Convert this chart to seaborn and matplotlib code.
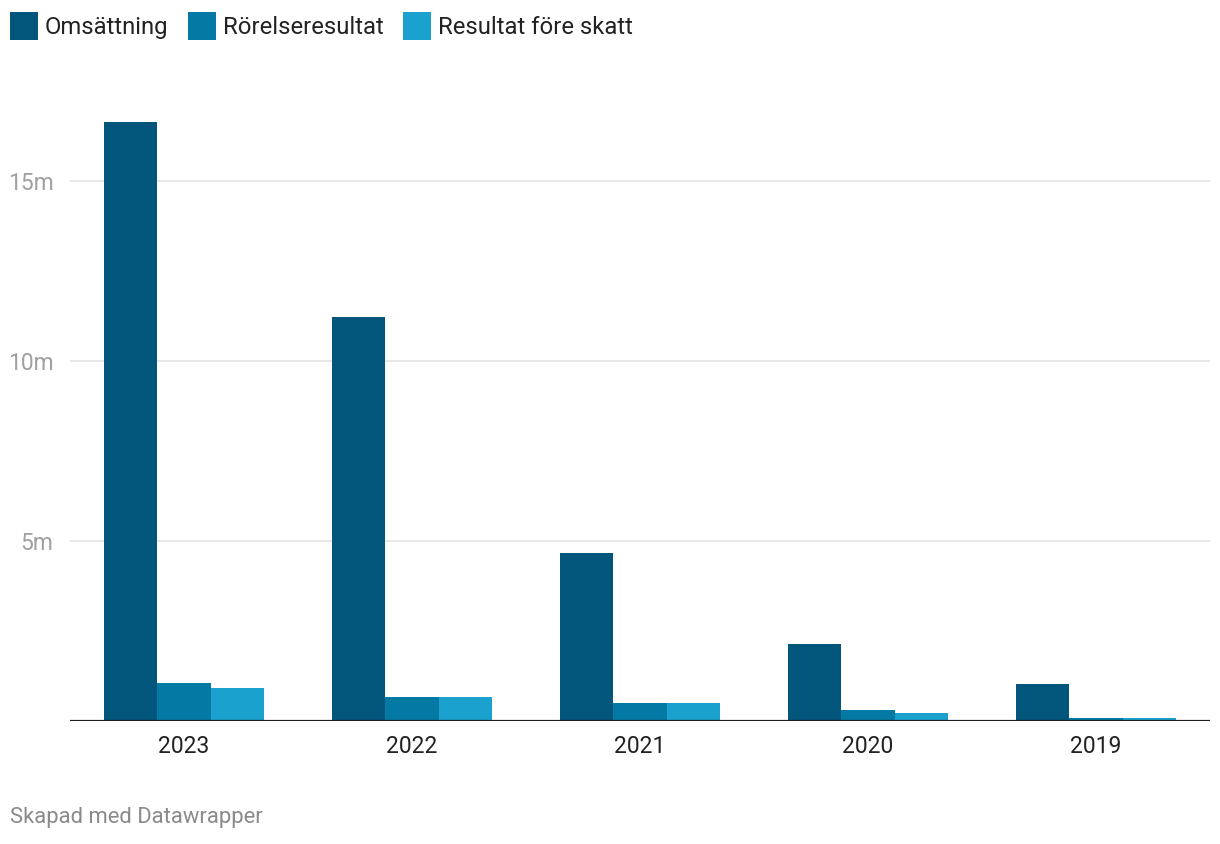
import numpy as np
import pandas as pd
import matplotlib
matplotlib.use("Agg")
import matplotlib.pyplot as plt
import seaborn as sns
from matplotlib.patches import Patch

# values (millions)
years = ["2023", "2022", "2021", "2020", "2019"]
omsattning = [16.64, 11.22, 4.67, 2.14, 1.03]
rorelseresultat = [1.06, 0.67, 0.50, 0.31, 0.08]
resultat_fore_skatt = [0.92, 0.67, 0.50, 0.22, 0.08]

series = ["Omsättning", "Rörelseresultat", "Resultat före skatt"]
colors = ["#02557b", "#0479a3", "#1aa1cd"]

df = pd.DataFrame({
    "year": years * 3,
    "value": omsattning + rorelseresultat + resultat_fore_skatt,
    "series": [s for s in series for _ in years],
})

sns.set_theme(style="white")
plt.rcParams["font.family"] = ["Roboto", "DejaVu Sans"]

fig = plt.figure(figsize=(12.2, 8.44), dpi=100)
ax = fig.add_axes([70 / 1220, 123 / 844, 1140 / 1220, 630 / 844])

sns.barplot(data=df, x="year", y="value", hue="series", order=years,
            hue_order=series, palette=colors, width=0.7, gap=0,
            saturation=1, linewidth=0, ax=ax, legend=False, zorder=3)

ax.set_xlim(-0.5, 4.5)
ax.set_ylim(0, 17.5)
ax.set_yticks([5, 10, 15])
ax.set_yticklabels(["5m", "10m", "15m"])
ax.grid(axis="y", color="#e3e3e3", linewidth=1.2, zorder=0)
ax.axhline(0, color="#1a1a1a", linewidth=2.3, zorder=4)
for s in ax.spines.values():
    s.set_visible(False)
ax.set_xlabel("")
ax.set_ylabel("")
ax.tick_params(axis="y", length=0, pad=12, labelsize=16.5, labelcolor="#a0a0a0")
ax.tick_params(axis="x", length=0, pad=10, labelsize=16.5, labelcolor="#222222")

# square legend boxes in the top-left corner
handles = [Patch(facecolor=c, edgecolor="none", label=s) for s, c in zip(series, colors)]
fig.legend(handles=handles, loc="upper left",
           bbox_to_anchor=(10 / 1220, 1 - 12 / 844),
           ncol=3, frameon=False, fontsize=17.2, handlelength=1.17,
           handleheight=1.42, handletextpad=0.3, columnspacing=0.8,
           borderaxespad=0, borderpad=0, labelcolor="#222222")

fig.text(10 / 1220, 1 - 818 / 844, "Skapad med Datawrapper", fontsize=15.8,
         color="#8a8a8a", va="center", ha="left")

fig.savefig("out.png", dpi=100)
